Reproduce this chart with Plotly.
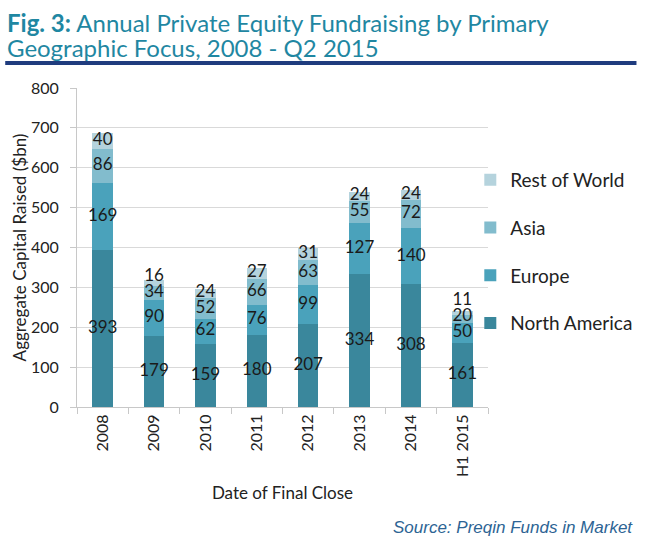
import plotly.graph_objects as go

# data ($bn)
years = ["2008", "2009", "2010", "2011", "2012", "2013", "2014", "H1 2015"]
north_america = [393, 179, 159, 180, 207, 334, 308, 161]
europe = [169, 90, 62, 76, 99, 127, 140, 50]
asia = [86, 34, 52, 66, 63, 55, 72, 20]
rest_of_world = [40, 16, 24, 27, 31, 24, 24, 11]

series = [
    ("North America", north_america, "#3a879c"),
    ("Europe", europe, "#4aa2bb"),
    ("Asia", asia, "#82bccd"),
    ("Rest of World", rest_of_world, "#b5d3dd"),
]

FONT = "Lato"
W, H = 650, 541
PLOT_L, PLOT_T = 77, 88
W_PLOT, PLOT_H = 418, 319
Y_MAX = 800
MIN_GAP = 16 * Y_MAX / PLOT_H   # min label spacing, in data units


def px_x(p):
    # page pixel -> paper x
    return (p - PLOT_L) / W_PLOT


def px_y(p):
    # page pixel -> paper y
    return (PLOT_T + PLOT_H - p) / PLOT_H


fig = go.Figure()

base = [0] * len(years)
last_label = [-1e9] * len(years)
for i, (name, vals, col) in enumerate(series):
    fig.add_trace(go.Bar(
        x=years, y=vals, name=name, marker_color=col,
        marker_line_width=0, legendgroup=name, legendrank=len(series) - i,
    ))
    # labels centred in each segment, nudged up when they would collide
    label_y = []
    for j, v in enumerate(vals):
        m = base[j] + v / 2
        m = max(m, last_label[j] + MIN_GAP)
        label_y.append(m)
        last_label[j] = m
    fig.add_trace(go.Scatter(
        x=years, y=label_y, mode="text", text=[str(v) for v in vals],
        textfont=dict(family=FONT, size=17, color="#1a1a1a"),
        showlegend=False, hoverinfo="skip", cliponaxis=False,
    ))
    base = [b + v for b, v in zip(base, vals)]

fig.update_layout(
    width=W, height=H,
    barmode="stack", bargap=0.6,
    plot_bgcolor="white", paper_bgcolor="white",
    margin=dict(l=PLOT_L, r=W - PLOT_L - W_PLOT, t=PLOT_T, b=H - PLOT_T - PLOT_H),
    font=dict(family=FONT, size=16, color="#222222"),
    legend=dict(
        x=px_x(477), xanchor="left", y=px_y(161), yanchor="top",
        traceorder="grouped", tracegroupgap=20,
        bgcolor="rgba(0,0,0,0)",
        font=dict(family=FONT, size=19, color="#222222"),
        itemwidth=30,
    ),
    shapes=[dict(
        type="line", xref="paper", yref="paper",
        x0=px_x(4), x1=px_x(646), y0=px_y(63), y1=px_y(63),
        line=dict(color="#1f3c7e", width=4),
    )],
    annotations=[
        dict(text="<b>Fig. 3:</b> Annual Private Equity Fundraising by Primary",
             xref="paper", yref="paper", x=px_x(4), y=px_y(22),
             xanchor="left", yanchor="middle", showarrow=False,
             font=dict(family=FONT, size=24, color="#1f87a2")),
        dict(text="Geographic Focus, 2008 - Q2 2015",
             xref="paper", yref="paper", x=px_x(4), y=px_y(47),
             xanchor="left", yanchor="middle", showarrow=False,
             font=dict(family=FONT, size=24, color="#1f87a2")),
        dict(text="<i>Source: Preqin Funds in Market</i>",
             xref="paper", yref="paper", x=px_x(645), y=px_y(527),
             xanchor="right", yanchor="middle", showarrow=False,
             font=dict(family="Liberation Sans", size=17, color="#2d6494")),
    ],
)

fig.update_xaxes(
    title=dict(text="Date of Final Close", font=dict(size=17), standoff=10),
    tickangle=-90, tickfont=dict(size=16), automargin=False,
    showline=True, linecolor="#c8c8c8", linewidth=1,
    ticks="outside", tickson="boundaries", ticklen=6, tickcolor="#c8c8c8",
)
fig.update_yaxes(
    title=dict(text="Aggregate Capital Raised ($bn)", font=dict(size=17), standoff=0),
    range=[0, Y_MAX], dtick=100, tickfont=dict(size=16), automargin=False,
    ticklabelstandoff=8,
    showgrid=True, gridcolor="#d9d9d9",
    showline=True, linecolor="#c8c8c8", linewidth=1,
    ticks="outside", ticklen=6, tickcolor="#c8c8c8",
    zeroline=False,
)

# drop the default page margin so the figure sits flush in the window
fig.write_html(
    "out.html",
    config=dict(displayModeBar=False),
    post_script="document.body.style.margin='0';document.body.style.overflow='hidden';",
)
